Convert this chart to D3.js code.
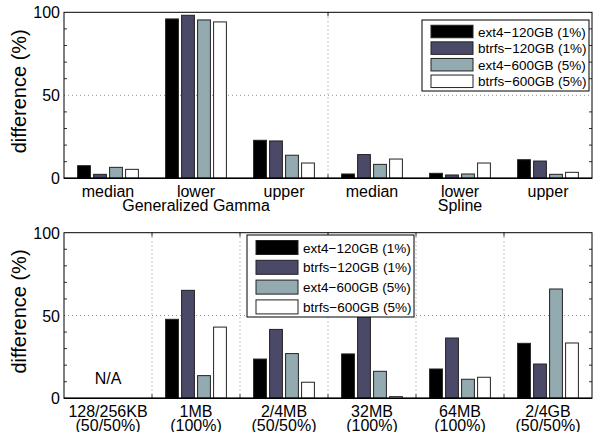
<!DOCTYPE html>
<html>
<head>
<meta charset="utf-8">
<script src="https://cdn.jsdelivr.net/npm/d3@7"></script>
<style>
  body { margin: 0; background: #fff; }
  text { font-family: "Liberation Sans", Arial, Helvetica, sans-serif; fill: #000; }
</style>
</head>
<body>
<div id="chart"></div>
<script>
// series (legend entries) and their colours
let seriesNames = ["ext4\u2212120GB (1%)", "btrfs\u2212120GB (1%)", "ext4\u2212600GB (5%)", "btrfs\u2212600GB (5%)"];
let seriesColors = ["#000000", "#4a4968", "#93aab0", "#ffffff"];

// top panel: fit quantiles for two distribution families
let fitTicks = ["median", "lower", "upper", "median", "lower", "upper"];
let fitFamilies = ["Generalized Gamma", "Spline"];
let fitExt4Small  = [7.6, 96.0, 22.9, 2.6, 3.0, 11.2];
let fitBtrfsSmall = [2.4, 98.2, 22.5, 14.3, 2.0, 10.4];
let fitExt4Large  = [6.6, 95.4, 13.9, 8.4, 2.6, 2.4];
let fitBtrfsLarge = [5.4, 94.2, 9.2, 11.6, 9.2, 3.6];

// bottom panel: file sizes
let sizeTicks = ["128/256KB", "1MB", "2/4MB", "32MB", "64MB", "2/4GB"];
let sizeShares = ["(50/50%)", "(100%)", "(50/50%)", "(100%)", "(100%)", "(50/50%)"];
let sizeExt4Small  = [null, 47.7, 23.7, 26.8, 17.7, 33.2];
let sizeBtrfsSmall = [null, 65.2, 41.6, 60.0, 36.4, 20.7];
let sizeExt4Large  = [null, 13.7, 27.0, 16.3, 11.5, 66.0];
let sizeBtrfsLarge = [null, 43.0, 9.7, 1.0, 12.7, 33.4];

let yTicks = [0, 50, 100];
let yMinor = [10, 20, 30, 40, 60, 70, 80, 90];

let width = 594, height = 432;
let left = 64, right = 592;

let svg = d3.select("#chart").append("svg")
  .attr("width", width)
  .attr("height", height);

// draws one panel of grouped bars
function drawPanel(opts) {
  let g = svg.append("g");
  let groups = d3.range(opts.series[0].length);

  let x = d3.scaleBand().domain(groups).range([left, right]).padding(0);
  let inner = d3.scaleBand().domain(d3.range(opts.series.length))
    .range([x.bandwidth() * 0.1365, x.bandwidth() * 0.8635])
    .paddingInner(0.2).paddingOuter(0.1);
  let y = d3.scaleLinear().domain([0, 100]).range([opts.bottom, opts.top]);

  // dotted grid
  g.append("g").selectAll("line")
    .data(opts.vgrid)
    .enter().append("line")
    .attr("x1", d => x(d)).attr("x2", d => x(d))
    .attr("y1", y(0)).attr("y2", y(100))
    .attr("stroke", "#777").attr("stroke-width", 0.8)
    .attr("stroke-dasharray", "1,3");
  g.append("line")
    .attr("x1", left).attr("x2", right)
    .attr("y1", y(50)).attr("y2", y(50))
    .attr("stroke", "#777").attr("stroke-width", 0.8)
    .attr("stroke-dasharray", "1,3");

  // bars
  opts.series.forEach(function(vals, s) {
    g.append("g").selectAll("rect")
      .data(groups.filter(i => vals[i] != null))
      .enter().append("rect")
      .attr("x", i => x(i) + inner(s))
      .attr("width", inner.bandwidth())
      .attr("y", i => y(vals[i]))
      .attr("height", i => y(0) - y(vals[i]))
      .attr("fill", seriesColors[s])
      .attr("stroke", "#222")
      .attr("stroke-width", 1);
  });

  // frame and ticks
  g.append("rect")
    .attr("x", left).attr("y", y(100))
    .attr("width", right - left).attr("height", y(0) - y(100))
    .attr("fill", "none").attr("stroke", "#000").attr("stroke-width", 1);
  g.append("line")
    .attr("x1", left).attr("x2", right)
    .attr("y1", y(0)).attr("y2", y(0))
    .attr("stroke", "#000").attr("stroke-width", 1.6);

  let minor = g.append("g").selectAll("g").data(yMinor).enter();
  minor.append("line")
    .attr("x1", left).attr("x2", left + 3)
    .attr("y1", d => y(d)).attr("y2", d => y(d))
    .attr("stroke", "#000").attr("stroke-width", 0.8);
  minor.append("line")
    .attr("x1", right).attr("x2", right - 3)
    .attr("y1", d => y(d)).attr("y2", d => y(d))
    .attr("stroke", "#000").attr("stroke-width", 0.8);

  let vt = g.append("g").selectAll("g").data(opts.vgrid).enter();
  vt.append("line")
    .attr("x1", d => x(d)).attr("x2", d => x(d))
    .attr("y1", y(100)).attr("y2", y(100) + 4)
    .attr("stroke", "#000").attr("stroke-width", 0.8);
  vt.append("line")
    .attr("x1", d => x(d)).attr("x2", d => x(d))
    .attr("y1", y(0)).attr("y2", y(0) - 4)
    .attr("stroke", "#000").attr("stroke-width", 0.8);

  g.append("g").selectAll("text")
    .data(yTicks)
    .enter().append("text")
    .attr("x", left - 4)
    .attr("y", d => y(d) + 6)
    .attr("text-anchor", "end")
    .attr("font-size", 16)
    .text(d => d);

  g.append("text")
    .attr("transform", "translate(26," + ((opts.top + opts.bottom) / 2 - 4) + ") rotate(-90)")
    .attr("text-anchor", "middle")
    .attr("font-size", 20)
    .text("difference (%)");

  // category labels (two lines)
  let lab = g.append("g").selectAll("text")
    .data(groups)
    .enter().append("text")
    .attr("text-anchor", "middle")
    .attr("font-size", 16)
    .attr("x", i => x(i) + x.bandwidth() / 2);
  lab.append("tspan")
    .attr("x", i => x(i) + x.bandwidth() / 2)
    .attr("y", opts.bottom + 19)
    .text(i => opts.line1[i]);
  lab.append("tspan")
    .attr("x", i => x(i) + x.bandwidth() / 2)
    .attr("y", opts.bottom + 33)
    .text(i => opts.line2[i]);

  // note text for empty groups
  g.append("g").selectAll("text")
    .data(groups.filter(i => opts.series.every(v => v[i] == null)))
    .enter().append("text")
    .attr("x", i => x(i) + x.bandwidth() / 2)
    .attr("y", y(0) - 14)
    .attr("text-anchor", "middle")
    .attr("font-size", 16)
    .text("N/A");

  // legend
  let L = opts.legend;
  let lg = g.append("g").attr("transform", "translate(" + L.x + "," + L.y + ")");
  lg.append("rect")
    .attr("width", L.w).attr("height", L.h)
    .attr("fill", "#fff").attr("stroke", "#000").attr("stroke-width", 1);
  let items = lg.selectAll("g").data(seriesNames).enter().append("g")
    .attr("transform", (d, i) => "translate(0," + (L.first + i * L.step) + ")");
  items.append("rect")
    .attr("x", 9).attr("y", -L.sw / 2)
    .attr("width", 42).attr("height", L.sw)
    .attr("fill", (d, i) => seriesColors[i])
    .attr("stroke", "#222").attr("stroke-width", 1);
  items.append("text")
    .attr("x", 56).attr("y", 5)
    .attr("font-size", 13.5)
    .text(d => d);
}

drawPanel({
  top: 12.3, bottom: 178.3,
  series: [fitExt4Small, fitBtrfsSmall, fitExt4Large, fitBtrfsLarge],
  vgrid: [3],
  line1: fitTicks,
  line2: ["", fitFamilies[0], "", "", fitFamilies[1], ""],
  legend: { x: 422, y: 20, w: 167, h: 71, first: 11.5, step: 16.6, sw: 12.5 }
});

drawPanel({
  top: 232.7, bottom: 398.3,
  series: [sizeExt4Small, sizeBtrfsSmall, sizeExt4Large, sizeBtrfsLarge],
  vgrid: [1, 2, 3, 4, 5],
  line1: sizeTicks,
  line2: sizeShares,
  legend: { x: 247, y: 235, w: 167, h: 82, first: 12.5, step: 19.8, sw: 14 }
});
</script>
</body>
</html>
